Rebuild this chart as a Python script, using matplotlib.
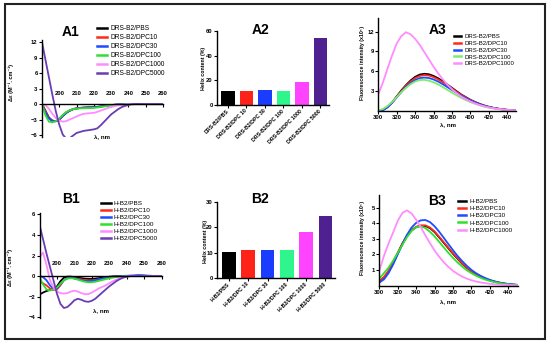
import matplotlib
matplotlib.use('Agg')
import matplotlib.pyplot as plt
from matplotlib.lines import Line2D
from matplotlib.patches import Rectangle

plt.rcParams['font.family'] = ['Liberation Sans', 'DejaVu Sans']

# ---------------- data ----------------
cd_wl = [190, 192, 194, 196, 198, 200, 202, 204, 206, 208, 210, 212, 214, 216, 218, 220, 222, 224,
         226, 228, 230, 232, 234, 236, 238, 240, 242, 244, 246, 248, 250, 252, 254, 256, 258, 260]
zeros10 = [0.0] * 10

a1_pbs = [0.0, -1.3, -2.6, -3.2, -3.3, -3.0, -2.3, -1.7, -1.3, -1.0, -0.85, -0.75, -0.7, -0.65, -0.62, -0.6,
          -0.55, -0.46, -0.36, -0.27, -0.19, -0.13, -0.08, -0.04, -0.02, 0.0] + zeros10
a1_dpc10 = [0.0, -1.4, -2.7, -3.3, -3.3, -2.9, -2.2, -1.6, -1.2, -0.95, -0.8, -0.72, -0.68, -0.64, -0.62, -0.6,
            -0.55, -0.47, -0.37, -0.28, -0.2, -0.13, -0.08, -0.04, -0.02, 0.0] + zeros10
a1_dpc30 = [-0.3, -1.6, -2.8, -3.3, -3.35, -3.0, -2.3, -1.7, -1.25, -0.98, -0.82, -0.74, -0.7, -0.66, -0.63, -0.6,
            -0.55, -0.46, -0.36, -0.27, -0.19, -0.12, -0.07, -0.04, -0.02, 0.0] + zeros10
a1_dpc100 = [0.0, -2.2, -3.4, -3.55, -3.3, -2.8, -2.1, -1.55, -1.2, -0.98, -0.88, -0.82, -0.8, -0.78, -0.76, -0.73,
             -0.66, -0.56, -0.45, -0.34, -0.25, -0.17, -0.11, -0.06, -0.03, -0.01] + zeros10
a1_dpc1000 = [0.0, -0.2, -0.9, -1.9, -2.7, -3.2, -3.4, -3.3, -3.0, -2.7, -2.4, -2.1, -1.9, -1.8, -1.75, -1.7,
              -1.5, -1.25, -1.0, -0.75, -0.55, -0.38, -0.25, -0.15, -0.08, -0.03] + zeros10
a1_dpc5000 = [12.0, 8.6, 5.2, 1.8, -1.4, -4.0, -5.9, -6.7, -6.6, -6.1, -5.6, -5.4, -5.2, -5.1, -5.0, -4.9,
              -4.7, -4.1, -3.4, -2.7, -2.0, -1.5, -1.0, -0.6, -0.35, -0.15,
              -0.03, 0.02, 0.02, 0.01, 0.0, 0.0, 0.0, 0.0, 0.0, 0.0]

b1_pbs = [-1.8, -1.6, -1.45, -1.35, -1.3, -1.0, -0.5, -0.15, -0.05, -0.05, -0.1, -0.15, -0.2, -0.25, -0.28, -0.28,
          -0.25, -0.2, -0.15, -0.1, -0.06, -0.03, -0.01, 0.0, 0.0, 0.0] + zeros10
b1_dpc10 = [-0.5, -0.7, -0.9, -1.2, -1.35, -1.3, -0.9, -0.4, -0.2, -0.15, -0.2, -0.25, -0.32, -0.38, -0.42, -0.42,
            -0.38, -0.32, -0.25, -0.18, -0.12, -0.07, -0.03, -0.01, 0.0, 0.0] + zeros10
b1_dpc30 = [0.0, -0.1, -0.4, -0.9, -1.25, -1.2, -0.8, -0.4, -0.2, -0.15, -0.2, -0.3, -0.4, -0.47, -0.5, -0.47,
            -0.4, -0.32, -0.25, -0.18, -0.12, -0.07, -0.03, 0.0, 0.02, 0.03,
            0.05, 0.07, 0.1, 0.1, 0.08, 0.05, 0.03, 0.01, 0.0, 0.0]
b1_dpc100 = [-0.1, -0.8, -1.3, -1.4, -1.3, -1.1, -0.75, -0.4, -0.25, -0.2, -0.25, -0.35, -0.45, -0.55, -0.6, -0.6,
             -0.55, -0.47, -0.38, -0.3, -0.22, -0.15, -0.1, -0.05, -0.02, 0.0] + zeros10
b1_dpc1000 = [1.8, 2.3, 1.1, -0.4, -1.1, -1.5, -1.65, -1.7, -1.65, -1.5, -1.42, -1.5, -1.65, -1.75, -1.75, -1.6,
              -1.4, -1.2, -1.05, -0.9, -0.7, -0.5, -0.35, -0.22, -0.12, -0.05,
              -0.01, 0.0, 0.0, 0.0, 0.0, 0.0, 0.0, 0.0, 0.0, 0.0]
b1_dpc5000 = [5.0, 3.6, 2.2, 0.9, -0.4, -1.7, -2.7, -3.1, -3.0, -2.7, -2.35, -2.2, -2.3, -2.45, -2.5, -2.4,
              -2.2, -1.9, -1.6, -1.3, -1.0, -0.75, -0.5, -0.3, -0.15, -0.05] + zeros10

a1_labels = ['DRS-B2/PBS', 'DRS-B2/DPC10', 'DRS-B2/DPC30', 'DRS-B2/DPC100', 'DRS-B2/DPC1000', 'DRS-B2/DPC5000']
b1_labels = ['H-B2/PBS', 'H-B2/DPC10', 'H-B2/DPC30', 'H-B2/DPC100', 'H-B2/DPC1000', 'H-B2/DPC5000']

bar_labels_a = ['DRS-B2/PBS', 'DRS-B2/DPC 10', 'DRS-B2/DPC 30', 'DRS-B2/DPC 100', 'DRS-B2/DPC 1000', 'DRS-B2/DPC 5000']
bar_labels_b = ['H-B2/PBS', 'H-B2/DPC 10', 'H-B2/DPC 30', 'H-B2/DPC 100', 'H-B2/DPC 1000', 'H-B2/DPC 5000']
helix_a = [11.5, 11.3, 11.8, 11.7, 18.3, 54.0]
helix_b = [10.2, 11.1, 11.1, 11.1, 18.1, 24.5]

fl_wl = [300, 305, 310, 315, 320, 325, 330, 335, 340, 345, 350, 355, 360, 365, 370, 375,
         380, 385, 390, 395, 400, 405, 410, 415, 420, 425, 430, 435, 440, 445, 450]
a3_pbs = [0.0, 0.15, 0.6, 1.3, 2.2, 3.1, 3.9, 4.6, 5.15, 5.5, 5.62, 5.55, 5.3, 4.95, 4.5, 4.0,
          3.5, 3.0, 2.5, 2.1, 1.7, 1.37, 1.08, 0.84, 0.64, 0.48, 0.36, 0.26, 0.18, 0.12, 0.08]
a3_dpc10 = [0.0, 0.15, 0.6, 1.28, 2.15, 3.0, 3.8, 4.45, 4.98, 5.3, 5.42, 5.35, 5.12, 4.78, 4.35, 3.87,
            3.4, 2.92, 2.45, 2.05, 1.67, 1.34, 1.06, 0.82, 0.63, 0.47, 0.35, 0.25, 0.18, 0.12, 0.08]
a3_dpc30 = [0.0, 0.12, 0.55, 1.22, 2.05, 2.85, 3.6, 4.2, 4.68, 4.97, 5.05, 4.98, 4.77, 4.45, 4.05, 3.62,
            3.18, 2.75, 2.32, 1.94, 1.6, 1.29, 1.02, 0.8, 0.61, 0.46, 0.34, 0.25, 0.17, 0.12, 0.08]
a3_dpc100 = [0.1, 0.3, 0.75, 1.35, 2.1, 2.85, 3.5, 4.05, 4.45, 4.68, 4.7, 4.58, 4.35, 4.02, 3.62, 3.2,
             2.78, 2.38, 2.0, 1.66, 1.36, 1.1, 0.87, 0.68, 0.52, 0.4, 0.3, 0.22, 0.15, 0.1, 0.07]
a3_dpc1000 = [2.5, 4.3, 6.4, 8.4, 10.2, 11.3, 11.9, 11.6, 10.9, 10.0, 8.9, 7.8, 6.7, 5.7, 4.8, 4.0,
              3.3, 2.7, 2.2, 1.8, 1.45, 1.15, 0.9, 0.7, 0.53, 0.4, 0.3, 0.22, 0.15, 0.1, 0.06]

b3_pbs = [0.28, 0.52, 0.92, 1.47, 2.08, 2.68, 3.18, 3.53, 3.74, 3.83, 3.82, 3.68, 3.43, 3.09, 2.74, 2.39,
          2.04, 1.72, 1.4, 1.14, 0.92, 0.73, 0.58, 0.45, 0.34, 0.26, 0.19, 0.14, 0.1, 0.07, 0.05]
b3_dpc10 = [0.3, 0.55, 0.95, 1.5, 2.1, 2.7, 3.2, 3.56, 3.77, 3.86, 3.86, 3.72, 3.47, 3.13, 2.78, 2.43,
            2.08, 1.75, 1.43, 1.16, 0.93, 0.74, 0.58, 0.45, 0.34, 0.26, 0.19, 0.14, 0.1, 0.07, 0.05]
b3_dpc30 = [0.2, 0.4, 0.8, 1.35, 2.0, 2.65, 3.25, 3.72, 4.02, 4.18, 4.2, 4.07, 3.8, 3.45, 3.06, 2.66,
            2.27, 1.9, 1.57, 1.27, 1.01, 0.8, 0.63, 0.49, 0.37, 0.28, 0.21, 0.15, 0.11, 0.08, 0.05]
b3_dpc100 = [0.45, 0.8, 1.15, 1.6, 2.1, 2.6, 3.1, 3.5, 3.74, 3.8, 3.68, 3.45, 3.15, 2.8, 2.45, 2.1,
             1.78, 1.48, 1.22, 0.99, 0.8, 0.64, 0.5, 0.39, 0.3, 0.23, 0.17, 0.12, 0.09, 0.06, 0.04]
b3_dpc1000 = [0.95, 1.9, 2.7, 3.4, 4.15, 4.65, 4.82, 4.62, 4.22, 3.75, 3.22, 2.72, 2.25, 1.85, 1.5, 1.2,
              0.95, 0.75, 0.58, 0.45, 0.35, 0.27, 0.21, 0.16, 0.12, 0.09, 0.07, 0.05, 0.04, 0.03, 0.02]

line_colors = ['#000000', '#FF2A1A', '#1F4BFF', '#2FE02F', '#FF8CFF', '#6A3CB4']
a3_colors = ['#000000', '#FF2A1A', '#1F4BFF', '#7CEB6E', '#FF8CFF']
b3_colors = ['#000000', '#FF2A1A', '#1F4BFF', '#2FE02F', '#FF8CFF']
bar_colors = ['#000000', '#FF2218', '#1A3CFF', '#2EF58C', '#FF44FF', '#4E2090']

# ---------------- layout helpers ----------------
W, H = 550, 344
fig = plt.figure(figsize=(W / 100, H / 100), dpi=100)


def px_axes(left, right, top, bottom):
    return fig.add_axes([left / W, 1 - bottom / H, (right - left) / W, (bottom - top) / H])


def ftext(x, y, s, **kw):
    fig.text(x / W, 1 - y / H, s, **kw)


def style(ax):
    for s in ['top', 'right']:
        ax.spines[s].set_visible(False)
    for s in ['left', 'bottom']:
        ax.spines[s].set_linewidth(1.0)
    ax.tick_params(width=0.8, length=2.2, labelsize=4.2, pad=1)
    for lab in ax.get_xticklabels() + ax.get_yticklabels():
        lab.set_fontweight('bold')


def legend(ax, labels, colors, x, y, fs, hl, sp):
    handles = [Line2D([], [], color=c, lw=1.8) for c in colors]
    ax.legend(handles, labels, loc='upper left', bbox_to_anchor=(x / W, 1 - y / H),
              bbox_transform=fig.transFigure, frameon=False, fontsize=fs,
              handlelength=hl, handletextpad=0.5, labelspacing=sp, borderpad=0, borderaxespad=0)


LW = 1.3

# ---------------- A1 ----------------
ax = px_axes(42, 163, 40.2, 137.1)
for ys, c in zip([a1_pbs, a1_dpc10, a1_dpc30, a1_dpc100, a1_dpc1000, a1_dpc5000], line_colors):
    ax.plot(cd_wl, ys, color=c, lw=LW)
ax.set_xlim(190, 260)
ax.set_ylim(-6.4, 12.4)
ax.set_yticks([-6, -3, 0, 3, 6, 9, 12])
ax.set_xticks([190, 200, 210, 220, 230, 240, 250, 260])
ax.spines['bottom'].set_position(('data', 0))
style(ax)
ax.tick_params(axis='x', pad=-11.3)
ax.get_xticklabels()[0].set_visible(False)
legend(ax, a1_labels, line_colors, 97, 25, 4.8, 1.5, 0.3)

# ---------------- B1 ----------------
ax = px_axes(39.5, 161.5, 213.3, 318.3)
for ys, c in zip([b1_pbs, b1_dpc10, b1_dpc30, b1_dpc100, b1_dpc1000, b1_dpc5000], line_colors):
    ax.plot(cd_wl, ys, color=c, lw=LW)
ax.set_xlim(190, 260)
ax.set_ylim(-4.1, 6.1)
ax.set_yticks([-4, -2, 0, 2, 4, 6])
ax.set_xticks([190, 200, 210, 220, 230, 240, 250, 260])
ax.spines['bottom'].set_position(('data', 0))
style(ax)
ax.tick_params(axis='x', pad=-12.8)
ax.get_xticklabels()[0].set_visible(False)
legend(ax, b1_labels, line_colors, 100.5, 200.5, 4.6, 1.6, 0.25)

# ---------------- A2 ----------------
ax = px_axes(217.3, 329, 31, 105)
ax.bar(range(len(helix_a)), helix_a, width=0.72, color=bar_colors)
ax.set_xlim(-0.58, 5.47)
ax.set_ylim(0, 60)
ax.set_yticks([0, 20, 40, 60])
ax.set_xticks(range(len(helix_a)))
ax.set_xticklabels(bar_labels_a, rotation=45, ha='right', rotation_mode='anchor', va='center')
style(ax)
ax.tick_params(axis='x', labelsize=3.8, pad=1.5)

# ---------------- B2 ----------------
ax = px_axes(217.3, 335, 201.7, 278.3)
ax.bar(range(len(helix_b)), helix_b, width=0.71, color=bar_colors)
ax.set_xlim(-0.61, 5.5)
ax.set_ylim(0, 30)
ax.set_yticks([0, 10, 20, 30])
ax.set_xticks(range(len(helix_b)))
ax.set_xticklabels(bar_labels_b, rotation=45, ha='right', rotation_mode='anchor', va='center')
style(ax)
ax.tick_params(axis='x', labelsize=3.8, pad=1.5)

# ---------------- A3 ----------------
ax = px_axes(378.3, 516.3, 18.3, 111)
for ys, c in zip([a3_pbs, a3_dpc10, a3_dpc30, a3_dpc100, a3_dpc1000], a3_colors):
    ax.plot(fl_wl, ys, color=c, lw=LW)
ax.set_xlim(300, 450)
ax.set_ylim(0, 14)
ax.set_yticks([3, 6, 9, 12])
ax.set_xticks(range(300, 441, 20))
style(ax)
legend(ax, a1_labels[:5], a3_colors, 453.5, 33.7, 4.35, 1.25, 0.27)

# ---------------- B3 ----------------
ax = px_axes(379.3, 517.5, 195, 285.7)
for ys, c in zip([b3_pbs, b3_dpc10, b3_dpc30, b3_dpc100, b3_dpc1000], b3_colors):
    ax.plot(fl_wl, ys, color=c, lw=LW)
ax.set_xlim(300, 450)
ax.set_ylim(0, 5.8)
ax.set_yticks([1, 2, 3, 4, 5])
ax.set_xticks(range(300, 441, 20))
style(ax)
legend(ax, b1_labels[:5], b3_colors, 457.5, 198.5, 4.5, 1.4, 0.3)

# ---------------- texts ----------------
for (x, y, s) in [(71, 32, 'A1'), (70.7, 199.3, 'B1'), (260, 30, 'A2'), (260, 199, 'B2'),
                  (437.7, 30, 'A3'), (437, 200.8, 'B3')]:
    ftext(x, y, s, ha='center', va='center', fontsize=10, fontweight='bold')

lab_kw = dict(rotation=90, ha='center', va='center', fontweight='bold')
ftext(10.8, 82, 'Δε (M⁻¹. cm⁻¹)', fontsize=4.0, **lab_kw)
ftext(10, 267.5, 'Δε (M⁻¹. cm⁻¹)', fontsize=4.0, **lab_kw)
ftext(203.3, 68, 'Helix content (%)', fontsize=3.8, **lab_kw)
ftext(205, 241, 'Helix content (%)', fontsize=3.8, **lab_kw)
ftext(362.7, 63, 'Fluorescence intensity (x10⁵)', fontsize=3.8, **lab_kw)
ftext(362.5, 237.5, 'Fluorescence intensity (x10⁵)', fontsize=3.8, **lab_kw)

xl_kw = dict(ha='center', va='center', fontweight='bold', fontsize=4.4)
ftext(102, 138, 'λ, nm', **xl_kw)
ftext(101, 311.7, 'λ, nm', **xl_kw)
ftext(448, 126, 'λ, nm', **xl_kw)
ftext(448.3, 302.7, 'λ, nm', **xl_kw)

fig.add_artist(Rectangle((4.5 / W, 1 - 338.5 / H), 540 / W, 334.5 / H, transform=fig.transFigure,
                         fill=False, lw=1.5, ec='#222222'))

fig.savefig('out.png', dpi=100)
